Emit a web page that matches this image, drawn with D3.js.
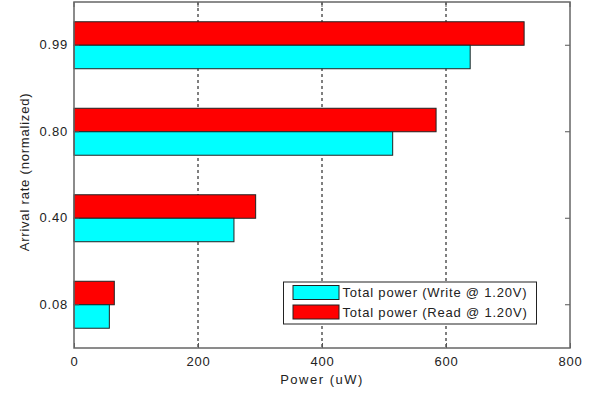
<!DOCTYPE html>
<html>
<head>
<meta charset="utf-8">
<script src="https://cdn.jsdelivr.net/npm/d3@7"></script>
<style>
  body { margin: 0; background: #fff; }
  text { font-family: "Liberation Sans", Arial, sans-serif; fill: #222; letter-spacing: 0.8px; }
</style>
</head>
<body>
<div id="plot"></div>
<script>
// data
var rates = ["0.08", "0.40", "0.80", "0.99"];
var writePower = [57, 258, 514, 639];
var readPower = [65, 293, 584, 726];
var seriesNames = ["Total power (Write @ 1.20V)", "Total power (Read @ 1.20V)"];
var seriesColors = ["#00ffff", "#ff0000"];
var xTicks = [0, 200, 400, 600, 800];

var svgWidth = 592, svgHeight = 394;
var margin = { top: 2, right: 22, bottom: 46, left: 74 };
var width = svgWidth - margin.left - margin.right;
var height = svgHeight - margin.top - margin.bottom;

var svg = d3.select("#plot").append("svg")
    .attr("width", svgWidth)
    .attr("height", svgHeight);

var chartGroup = svg.append("g")
    .attr("transform", `translate(${margin.left}, ${margin.top})`);

// scales
var xScale = d3.scaleLinear().domain([0, 800]).range([0, width]);
var yScale = d3.scaleBand().domain(rates).range([height, 0])
    .paddingInner(0.457).paddingOuter(0.2285);
// red (read) above cyan (write)
var subScale = d3.scaleBand().domain(["read", "write"]).range([0, yScale.bandwidth()]);

// grid lines
chartGroup.append("g").selectAll("line")
    .data(xTicks.slice(1, -1))
    .enter().append("line")
    .attr("x1", d => xScale(d)).attr("x2", d => xScale(d))
    .attr("y1", 0).attr("y2", height)
    .attr("stroke", "#000")
    .attr("stroke-width", 1)
    .attr("stroke-dasharray", "3,3");

// bars
var rows = rates.map((r, i) => ({ rate: r, write: writePower[i], read: readPower[i] }));
var groups = chartGroup.selectAll(".grp")
    .data(rows).enter().append("g")
    .attr("transform", d => `translate(0, ${yScale(d.rate)})`);

groups.append("rect")
    .attr("x", xScale(0))
    .attr("y", subScale("read"))
    .attr("width", d => xScale(d.read) - xScale(0))
    .attr("height", subScale.bandwidth())
    .attr("fill", seriesColors[1])
    .attr("stroke", "#222");

groups.append("rect")
    .attr("x", xScale(0))
    .attr("y", subScale("write"))
    .attr("width", d => xScale(d.write) - xScale(0))
    .attr("height", subScale.bandwidth())
    .attr("fill", seriesColors[0])
    .attr("stroke", "#222");

// axes (MATLAB style ticks pointing inward)
var bottomAxis = d3.axisBottom(xScale).tickValues(xTicks).tickSize(-5).tickPadding(9);
var leftAxis = d3.axisLeft(yScale).tickSize(-5).tickPadding(6);

var xAxisG = chartGroup.append("g")
    .attr("transform", `translate(0, ${height})`)
    .call(bottomAxis);
var yAxisG = chartGroup.append("g").call(leftAxis);

[xAxisG, yAxisG].forEach(g => {
    g.select(".domain").remove();
    g.selectAll("line").attr("stroke", "#555");
    g.selectAll("text").attr("font-size", "13px").style("fill", "#222")
        .attr("font-family", "Liberation Sans, Arial, sans-serif");
});

// right side ticks
chartGroup.append("g").selectAll("line")
    .data(rates).enter().append("line")
    .attr("x1", width - 5).attr("x2", width)
    .attr("y1", d => yScale(d) + yScale.bandwidth() / 2)
    .attr("y2", d => yScale(d) + yScale.bandwidth() / 2)
    .attr("stroke", "#555");
// top ticks
chartGroup.append("g").selectAll("line")
    .data(xTicks).enter().append("line")
    .attr("x1", d => xScale(d)).attr("x2", d => xScale(d))
    .attr("y1", 0).attr("y2", 5)
    .attr("stroke", "#555");

// frame
chartGroup.append("rect")
    .attr("x", 0).attr("y", 0)
    .attr("width", width).attr("height", height)
    .attr("fill", "none")
    .attr("stroke", "#666")
    .attr("stroke-width", 1.5);

// axis titles
chartGroup.append("text")
    .attr("transform", `translate(${width / 2}, ${height + 36})`)
    .attr("text-anchor", "middle")
    .attr("font-size", "13px")
    .style("letter-spacing", "1.5px")
    .text("Power (uW)");

chartGroup.append("text")
    .attr("transform", "rotate(-90)")
    .attr("x", -170)
    .attr("y", 0 - margin.left + 29)
    .style("text-anchor", "middle")
    .attr("font-size", "13px")
    .text("Arrival rate (normalized)");

// legend
var legend = svg.append("g").attr("transform", "translate(283.5, 282)");
legend.append("rect")
    .attr("width", 253).attr("height", 42)
    .attr("fill", "#fff").attr("stroke", "#222");
seriesNames.forEach((name, i) => {
    legend.append("rect")
        .attr("x", 9.5).attr("y", 3.5 + i * 19.5)
        .attr("width", 46).attr("height", 14)
        .attr("fill", seriesColors[i]).attr("stroke", "#222");
    legend.append("text")
        .attr("x", 59).attr("y", 15 + i * 19.5)
        .attr("font-size", "13px")
        .text(name);
});
</script>
</body>
</html>
